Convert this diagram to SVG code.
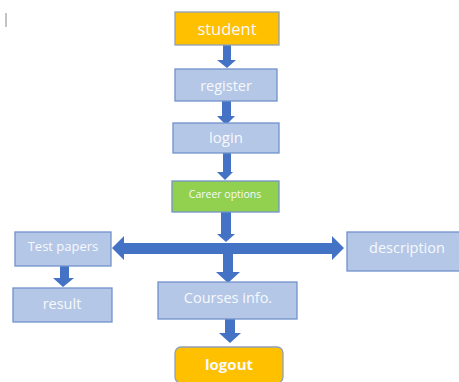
<svg xmlns="http://www.w3.org/2000/svg" width="459" height="382" viewBox="0 0 459 382">
<style>
.box{fill:#B4C7E7;stroke:#7092CB;stroke-width:1.3}
.org{fill:#FFC000;stroke:#8FA0B8;stroke-width:1.3}
.grn{fill:#92D050;stroke:#7092CB;stroke-width:1.3}
.arr{fill:#4472C4}
text{font-family:"Open Sans","Noto Sans","Liberation Sans",sans-serif;fill:#F7F9FC;text-anchor:middle;font-weight:500}
text.bold{font-weight:700}
</style>
<rect width="459" height="382" fill="#FFFFFF"/>
<line x1="6" y1="13" x2="6" y2="27" stroke="#888888" stroke-width="1"/>
<g id="connectors">
<polygon class="arr" points="223,45 231,45 231,60 236,60 227,68 217,60 223,60"/>
<polygon class="arr" points="222,101 231,101 231,116 235,116 226,125 217,116 222,116"/>
<polygon class="arr" points="223,153 231,153 231,172 233,172 225,180 217,172 223,172"/>
<polygon class="arr" points="221,212 231,212 231,234 235,234 226,242 217,234 221,234"/>
<polygon class="arr" points="112,248 124,236 124,243 332,243 332,236 344,248 332,260 332,254 124,254 124,260"/>
<polygon class="arr" points="223,254 233,254 233,272 240,272 228,283 216,272 223,272"/>
<polygon class="arr" points="60,266 69,266 69,278 74,278 63,287 53,278 60,278"/>
<polygon class="arr" points="225,319 235,319 235,333 241,333 230,343 219,333 225,333"/>
</g>
<g id="student"><rect class="org" x="175" y="12" width="104" height="33"/><text x="227" y="35" font-size="16.5">student</text></g>
<g id="register"><rect class="box" x="175" y="69" width="102" height="32"/><text x="226" y="91" font-size="14.5">register</text></g>
<g id="login"><rect class="box" x="173" y="123" width="106" height="30"/><text x="226" y="143" font-size="15">login</text></g>
<g id="career"><rect class="grn" x="172" y="181" width="107" height="31"/><text x="225" y="198" font-size="10.5">Career options</text></g>
<g id="testpapers"><rect class="box" x="15" y="232" width="96" height="34"/><text x="63" y="251" font-size="13">Test papers</text></g>
<g id="description"><rect class="box" x="347" y="232" width="115" height="39"/><text x="407" y="253" font-size="14.5">description</text></g>
<g id="result"><rect class="box" x="13" y="288" width="99" height="34"/><text x="62" y="309" font-size="14.5">result</text></g>
<g id="courses"><rect class="box" x="158" y="282" width="139" height="37"/><text x="228" y="303" font-size="14.5">Courses info.</text></g>
<g id="logout"><rect class="org" x="175" y="347" width="108" height="36" rx="6"/><text class="bold" x="229" y="370" font-size="15">logout</text></g>
</svg>
